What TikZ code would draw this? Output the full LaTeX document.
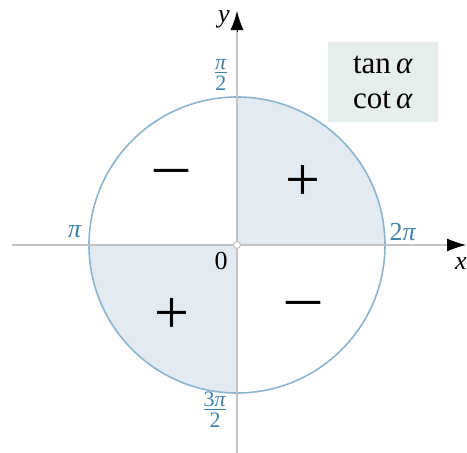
\documentclass[tikz,border=0pt]{standalone}
\usepackage{fontspec}
\setmainfont{Liberation Serif}
\usetikzlibrary{arrows.meta}
\definecolor{axisgray}{HTML}{C4C4C4}
\definecolor{circblue}{HTML}{8DB4CF}
\definecolor{fillblue}{HTML}{E3EBF2}
\definecolor{lblblue}{HTML}{3F82AE}
\definecolor{boxgreen}{HTML}{E6EFEA}
\newcommand{\myfrac}[2]{\begin{tabular}{@{}c@{}}#1\\[-5pt]\hline\noalign{\vskip1pt}#2\end{tabular}}
\begin{document}
\begin{tikzpicture}[x=1pt,y=-1pt,
  axis/.style={draw=axisgray,line width=2.6pt},
  lbl/.style={text=lblblue,font=\fontsize{26}{28}\selectfont,inner sep=0pt},
  flbl/.style={text=lblblue,font=\fontsize{22}{24}\selectfont,inner sep=0pt},
  sgn/.style={font=\fontsize{62}{62}\selectfont,inner sep=0pt},
  dark/.style={font=\fontsize{26}{28}\selectfont,inner sep=0pt}]
\useasboundingbox (0,0) rectangle (467,453);
\coordinate (O) at (237,245);
\fill[fillblue] (O) -- ++(148,0) arc[start angle=0,end angle=-90,radius=148] -- cycle;
\fill[fillblue] (O) -- ++(-148,0) arc[start angle=180,end angle=90,radius=148] -- cycle;
\draw[circblue,line width=1.6pt] (O) circle[radius=148];
\coordinate (xs) at (12,245);
\coordinate (xe) at (466,245);
\coordinate (ys) at (237,453);
\coordinate (ye) at (237,11);
\draw[axis] (xs) -- (452,245);
\draw[axis] (ys) -- (237,30);
\draw[-{Latex[length=19pt,width=13pt]},line width=1pt] (448,245) -- (xe);
\draw[-{Latex[length=19pt,width=13pt]},line width=1pt] (237,32) -- (ye);
\node[dark] (xl) at (461,264) {\textit{x}};
\node[dark] (yl) at (224,19) {\textit{y}};
\filldraw[fill=white,draw=axisgray,line width=1pt] (O) circle[radius=3.5];
\node[dark] (zero) at (221,261) {0};
\node[lbl] (pi) at (75,232) {\textit{π}};
\node[lbl] (tpi) at (403,232) {2\textit{π}};
\node[flbl] (pih) at (221,75) {\myfrac{\textit{π}}{2}};
\node[flbl] (tpih) at (215,412) {\myfrac{3\textit{π}}{2}};
\node[sgn] (m1) at (171,180) {\scalebox{1.2}[1]{−}};
\node[sgn] (p1) at (303,183) {+};
\node[sgn] (p2) at (172,316) {+};
\node[sgn] (m2) at (303,312) {\scalebox{1.2}[1]{−}};
\node[fill=boxgreen,minimum width=110pt,minimum height=80pt,inner sep=0pt,
  align=center,font=\fontsize{31}{35}\selectfont] (box) at (383,82) {tan\,\textit{α}\\cot\,\textit{α}};
\end{tikzpicture}
\end{document}
